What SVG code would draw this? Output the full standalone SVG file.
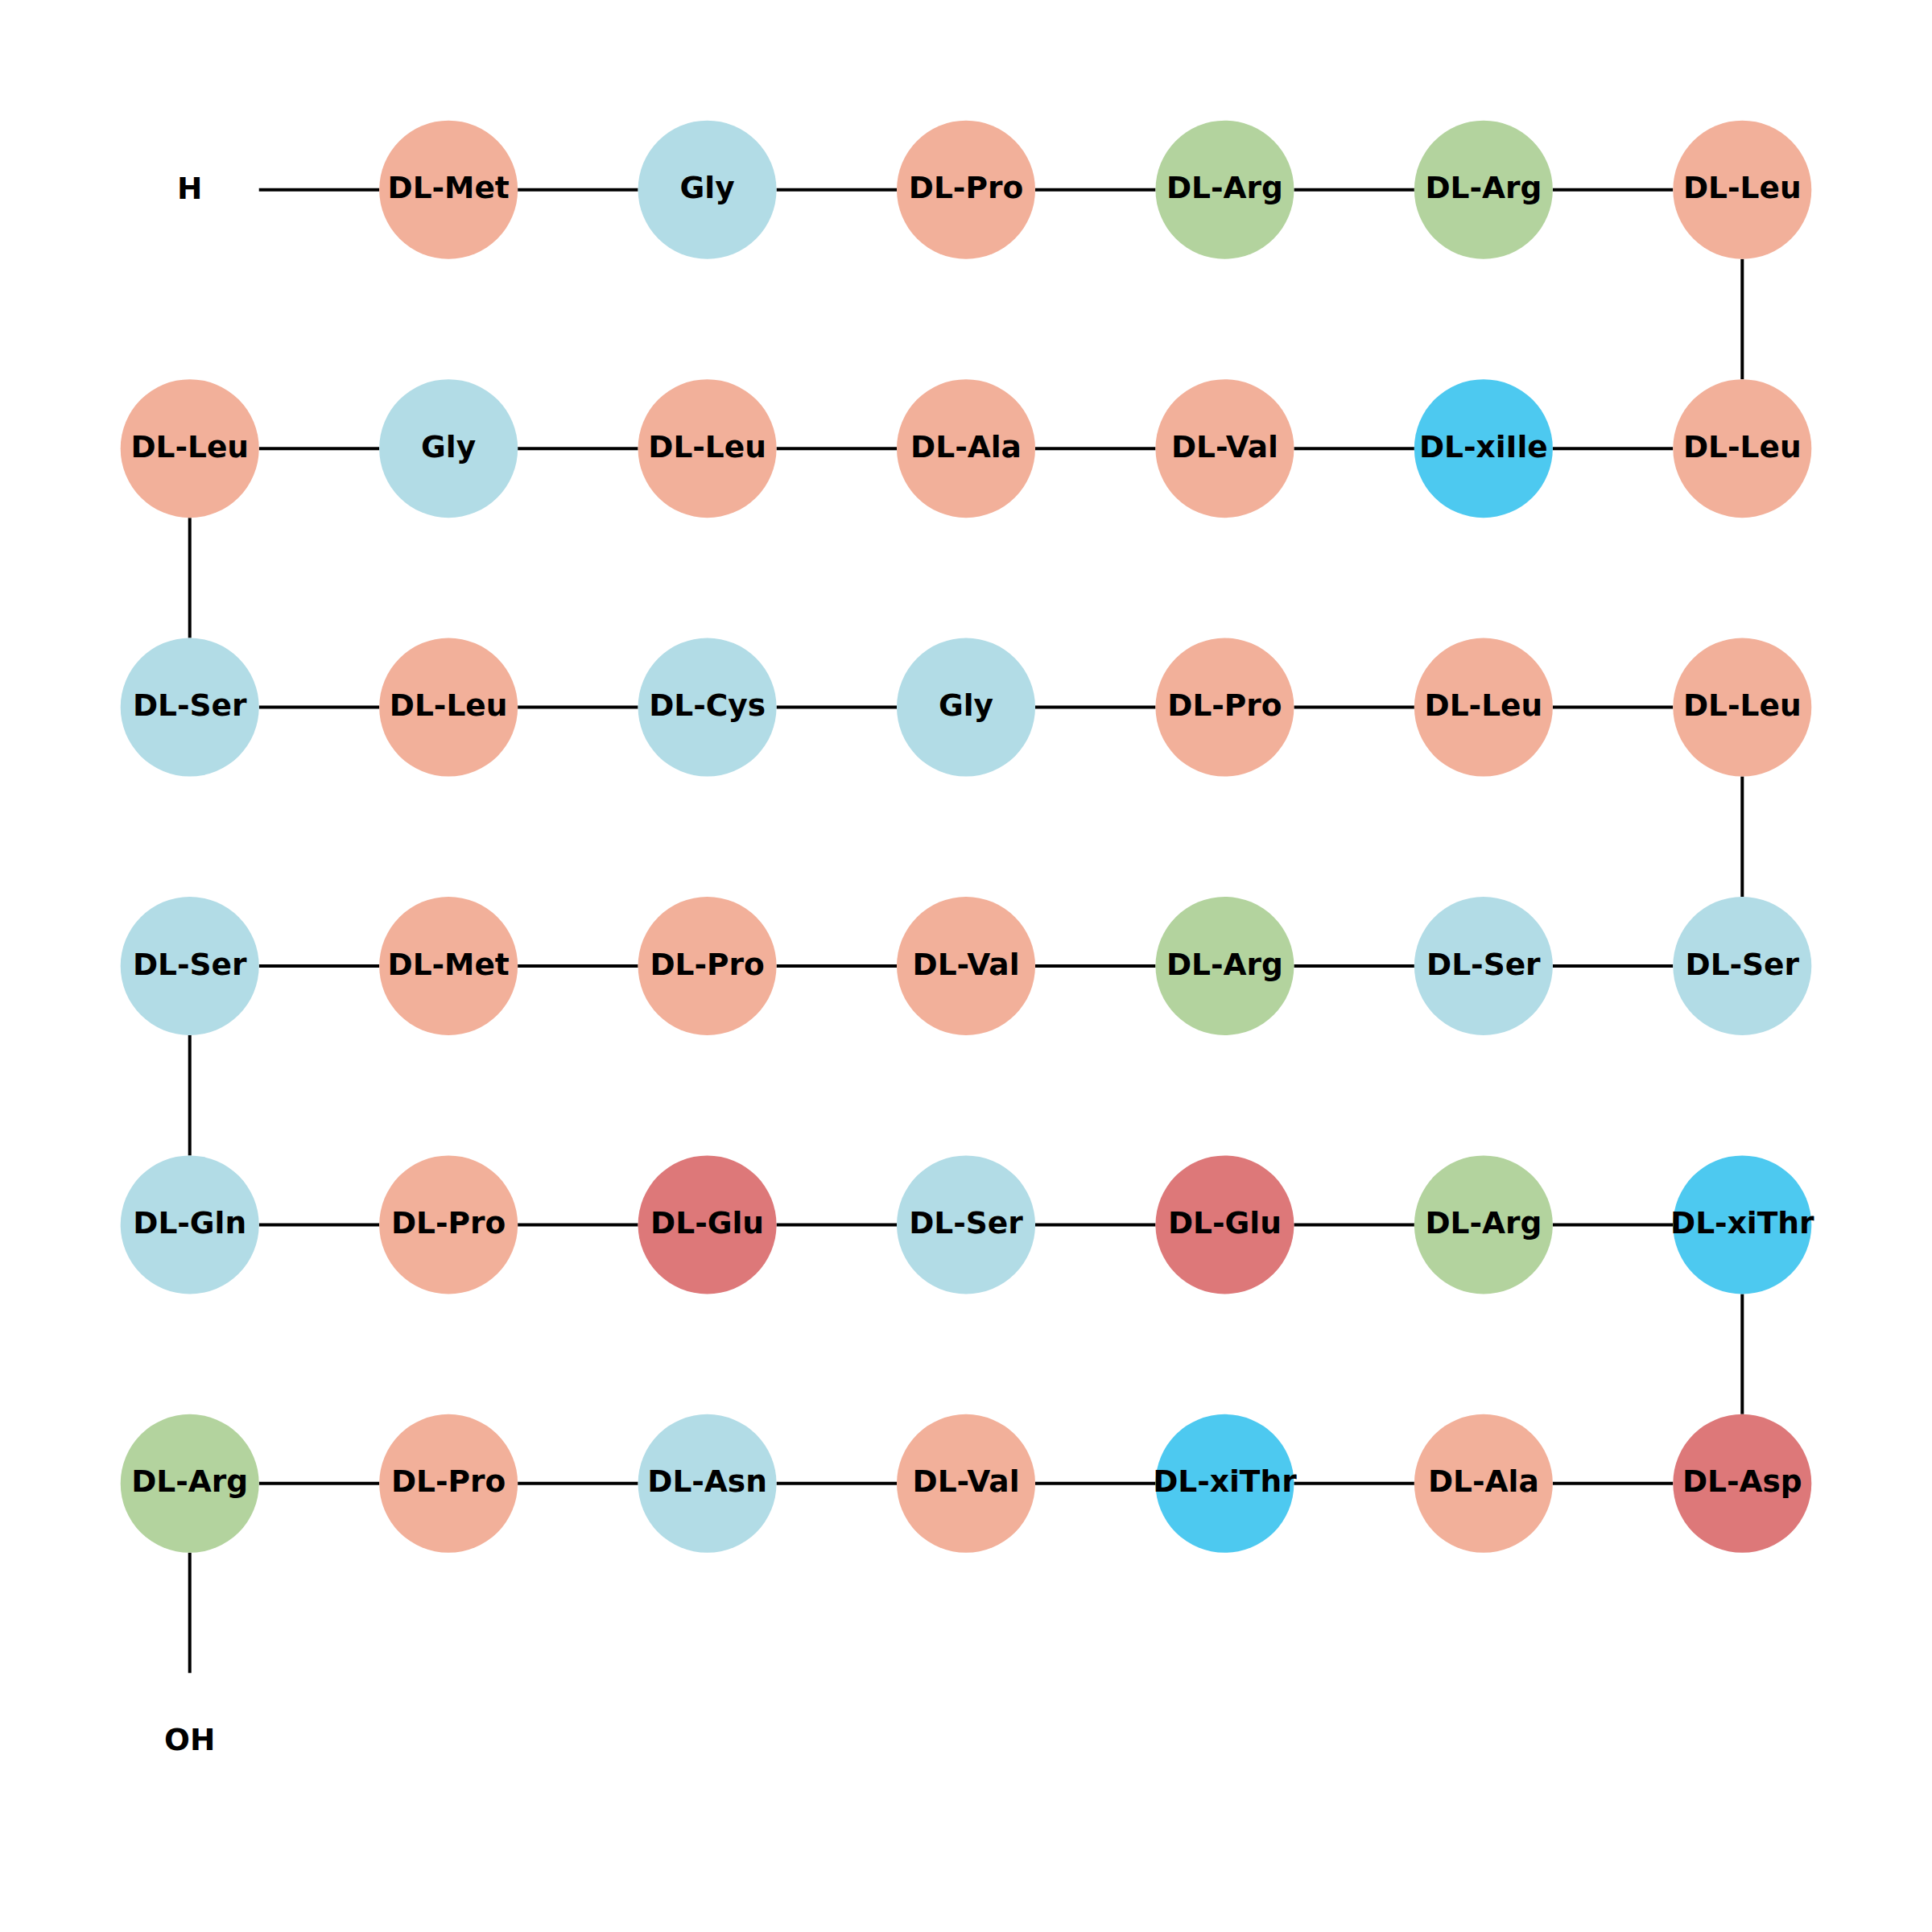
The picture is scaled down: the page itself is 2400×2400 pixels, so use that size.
<svg xmlns="http://www.w3.org/2000/svg" width="2400" height="2400" viewBox="0 0 2400 2400">
<style>
text{font-family:"DejaVu Sans","Liberation Sans",sans-serif;font-weight:bold;font-size:37.5px;text-anchor:middle;fill:#000}
circle{stroke:none}
.s{fill:#F2B09A}.b{fill:#B2DCE6}.g{fill:#B3D39E}.c{fill:#4DC9F0}.r{fill:#DD7879}
.e{stroke:#000;stroke-width:4;fill:none}
</style>
<rect width="2400" height="2400" fill="#fff"/>
<g id="connectors" class="e">
<path d="M321.71 235.71H471.14M643.14 235.71H792.57M964.57 235.71H1114M1286 235.71H1435.43M1607.43 235.71H1756.86M1928.86 235.71H2078.29"/>
<path d="M321.71 557.14H471.14M643.14 557.14H792.57M964.57 557.14H1114M1286 557.14H1435.43M1607.43 557.14H1756.86M1928.86 557.14H2078.29"/>
<path d="M321.71 878.57H471.14M643.14 878.57H792.57M964.57 878.57H1114M1286 878.57H1435.43M1607.43 878.57H1756.86M1928.86 878.57H2078.29"/>
<path d="M321.71 1200H471.14M643.14 1200H792.57M964.57 1200H1114M1286 1200H1435.43M1607.43 1200H1756.86M1928.86 1200H2078.29"/>
<path d="M321.71 1521.43H471.14M643.14 1521.43H792.57M964.57 1521.43H1114M1286 1521.43H1435.43M1607.43 1521.43H1756.86M1928.86 1521.43H2078.29"/>
<path d="M321.71 1842.86H471.14M643.14 1842.86H792.57M964.57 1842.86H1114M1286 1842.86H1435.43M1607.43 1842.86H1756.86M1928.86 1842.86H2078.29"/>
<path d="M2164.29 321.71V471.14M235.71 643.14V792.57M2164.29 964.57V1114M235.71 1286V1435.43M2164.29 1607.43V1756.86M235.71 1928.86V2078.29"/>
</g>
<g id="H"><text x="235.71" y="246.7">H</text></g>
<g id="OH"><text x="235.71" y="2173.8">OH</text></g>
<g id="r0c1" transform="translate(557.14,235.71)"><circle r="86" class="s"/><text y="10.5">DL-Met</text></g>
<g id="r0c2" transform="translate(878.57,235.71)"><circle r="86" class="b"/><text y="10.5">Gly</text></g>
<g id="r0c3" transform="translate(1200,235.71)"><circle r="86" class="s"/><text y="10.5">DL-Pro</text></g>
<g id="r0c4" transform="translate(1521.43,235.71)"><circle r="86" class="g"/><text y="10.5">DL-Arg</text></g>
<g id="r0c5" transform="translate(1842.86,235.71)"><circle r="86" class="g"/><text y="10.5">DL-Arg</text></g>
<g id="r0c6" transform="translate(2164.29,235.71)"><circle r="86" class="s"/><text y="10.5">DL-Leu</text></g>
<g id="r1c0" transform="translate(235.71,557.14)"><circle r="86" class="s"/><text y="10.5">DL-Leu</text></g>
<g id="r1c1" transform="translate(557.14,557.14)"><circle r="86" class="b"/><text y="10.5">Gly</text></g>
<g id="r1c2" transform="translate(878.57,557.14)"><circle r="86" class="s"/><text y="10.5">DL-Leu</text></g>
<g id="r1c3" transform="translate(1200,557.14)"><circle r="86" class="s"/><text y="10.5">DL-Ala</text></g>
<g id="r1c4" transform="translate(1521.43,557.14)"><circle r="86" class="s"/><text y="10.5">DL-Val</text></g>
<g id="r1c5" transform="translate(1842.86,557.14)"><circle r="86" class="c"/><text y="10.5">DL-xiIle</text></g>
<g id="r1c6" transform="translate(2164.29,557.14)"><circle r="86" class="s"/><text y="10.5">DL-Leu</text></g>
<g id="r2c0" transform="translate(235.71,878.57)"><circle r="86" class="b"/><text y="10.5">DL-Ser</text></g>
<g id="r2c1" transform="translate(557.14,878.57)"><circle r="86" class="s"/><text y="10.5">DL-Leu</text></g>
<g id="r2c2" transform="translate(878.57,878.57)"><circle r="86" class="b"/><text y="10.5">DL-Cys</text></g>
<g id="r2c3" transform="translate(1200,878.57)"><circle r="86" class="b"/><text y="10.5">Gly</text></g>
<g id="r2c4" transform="translate(1521.43,878.57)"><circle r="86" class="s"/><text y="10.5">DL-Pro</text></g>
<g id="r2c5" transform="translate(1842.86,878.57)"><circle r="86" class="s"/><text y="10.5">DL-Leu</text></g>
<g id="r2c6" transform="translate(2164.29,878.57)"><circle r="86" class="s"/><text y="10.5">DL-Leu</text></g>
<g id="r3c0" transform="translate(235.71,1200)"><circle r="86" class="b"/><text y="10.5">DL-Ser</text></g>
<g id="r3c1" transform="translate(557.14,1200)"><circle r="86" class="s"/><text y="10.5">DL-Met</text></g>
<g id="r3c2" transform="translate(878.57,1200)"><circle r="86" class="s"/><text y="10.5">DL-Pro</text></g>
<g id="r3c3" transform="translate(1200,1200)"><circle r="86" class="s"/><text y="10.5">DL-Val</text></g>
<g id="r3c4" transform="translate(1521.43,1200)"><circle r="86" class="g"/><text y="10.5">DL-Arg</text></g>
<g id="r3c5" transform="translate(1842.86,1200)"><circle r="86" class="b"/><text y="10.5">DL-Ser</text></g>
<g id="r3c6" transform="translate(2164.29,1200)"><circle r="86" class="b"/><text y="10.5">DL-Ser</text></g>
<g id="r4c0" transform="translate(235.71,1521.43)"><circle r="86" class="b"/><text y="10.5">DL-Gln</text></g>
<g id="r4c1" transform="translate(557.14,1521.43)"><circle r="86" class="s"/><text y="10.5">DL-Pro</text></g>
<g id="r4c2" transform="translate(878.57,1521.43)"><circle r="86" class="r"/><text y="10.5">DL-Glu</text></g>
<g id="r4c3" transform="translate(1200,1521.43)"><circle r="86" class="b"/><text y="10.5">DL-Ser</text></g>
<g id="r4c4" transform="translate(1521.43,1521.43)"><circle r="86" class="r"/><text y="10.5">DL-Glu</text></g>
<g id="r4c5" transform="translate(1842.86,1521.43)"><circle r="86" class="g"/><text y="10.5">DL-Arg</text></g>
<g id="r4c6" transform="translate(2164.29,1521.43)"><circle r="86" class="c"/><text y="10.5">DL-xiThr</text></g>
<g id="r5c0" transform="translate(235.71,1842.86)"><circle r="86" class="g"/><text y="10.5">DL-Arg</text></g>
<g id="r5c1" transform="translate(557.14,1842.86)"><circle r="86" class="s"/><text y="10.5">DL-Pro</text></g>
<g id="r5c2" transform="translate(878.57,1842.86)"><circle r="86" class="b"/><text y="10.5">DL-Asn</text></g>
<g id="r5c3" transform="translate(1200,1842.86)"><circle r="86" class="s"/><text y="10.5">DL-Val</text></g>
<g id="r5c4" transform="translate(1521.43,1842.86)"><circle r="86" class="c"/><text y="10.5">DL-xiThr</text></g>
<g id="r5c5" transform="translate(1842.86,1842.86)"><circle r="86" class="s"/><text y="10.5">DL-Ala</text></g>
<g id="r5c6" transform="translate(2164.29,1842.86)"><circle r="86" class="r"/><text y="10.5">DL-Asp</text></g>
</svg>
